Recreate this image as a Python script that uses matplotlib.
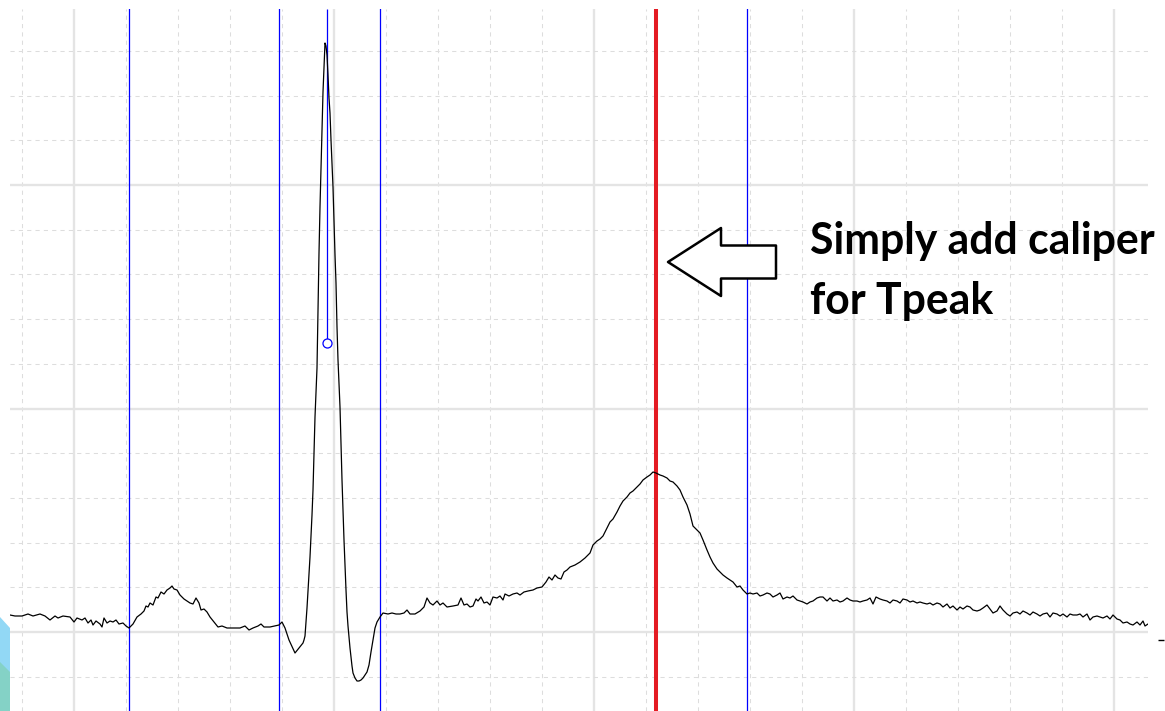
import numpy as np
import matplotlib
matplotlib.use("Agg")
import matplotlib.pyplot as plt
from matplotlib.ticker import MultipleLocator
from matplotlib.patches import Polygon

# recording constants
FS = 1300.0      # samples per second
GAIN = 447.0     # adc counts per mV

# ECG trace (sample index, adc counts above baseline)
# baseline + P wave
p_idx = [0, 5, 12, 18, 23, 30, 35, 40, 45, 48, 53, 60, 64, 67, 72, 75, 78, 81, 83, 86,
         90, 92, 94, 97, 100, 103, 106, 109, 113, 116, 119, 123, 127, 131, 134, 136, 138, 140,
         143, 146, 148, 151, 154, 157, 160, 162, 164, 167, 170, 174, 177, 180, 183, 186, 189,
         191, 194, 197, 200, 204, 208, 212, 217, 223, 230, 235, 239, 243, 248, 251, 254, 260, 269]
p_adc = [17, 16, 16, 18, 16, 18, 16, 12, 16, 14, 16, 15, 10, 14, 12, 14, 9, 12, 7, 11,
         8, 5, 14, 9, 11, 10, 12, 8, 9, 6, 4, 8, 15, 18, 21, 26, 25, 29,
         27, 35, 34, 40, 38, 42, 44, 46, 43, 42, 37, 33, 31, 29, 28, 34, 29,
         22, 23, 20, 15, 10, 5, 6, 4, 4, 4, 6, 2, 4, 6, 8, 5, 5, 7]
# QRS complex
qrs_idx = [272, 275, 279, 285, 289, 293, 294, 295, 296, 297, 298, 299, 300, 301, 302, 303, 304,
           305, 306, 307, 308, 309, 310, 311, 312, 313, 314, 315, 316, 317, 318, 319, 320,
           321, 322, 323, 324, 325, 326, 327, 328, 329, 330, 331, 332, 333, 334, 335, 336,
           337, 338, 339, 340, 341, 342, 343, 345, 347, 349, 351, 353, 355, 357, 359, 361, 363,
           365, 367, 370, 373]
qrs_adc = [10, 4, -8, -21, -16, -11, -8, -4, 10, 24, 42, 58, 75, 96, 117, 142, 180,
           215, 240, 264, 324, 379, 425, 462, 495, 540, 564, 589, 586, 577, 557, 534, 519,
           492, 469, 445, 410, 377, 349, 305, 272, 248, 225, 187, 152, 122, 92, 67, 42,
           20, 6, -5, -16, -25, -34, -41, -46, -49, -49, -48, -46, -43, -40, -33, -20,
           -8, 4, 10, 15, 19]
# ST segment + T wave
t_idx = [378, 382, 386, 390, 394, 397, 400, 405, 410, 414, 417, 420, 423, 427, 430, 433, 437,
         443, 448, 451, 454, 457, 460, 463, 466, 468, 471, 474, 477, 480, 483, 487, 490, 493,
         495, 499, 503, 507, 510, 514, 518, 523, 527, 532, 536, 539, 542, 545, 548, 551, 554,
         557, 560, 565, 570, 575, 580, 583, 587, 590, 593, 597, 600, 603, 607, 610, 613, 617,
         620, 623, 627, 630, 633, 637, 640, 643, 646, 650, 653, 657, 660, 663, 667, 670, 673,
         677, 680, 683, 687, 690, 693, 697, 700, 703, 707, 710, 713, 717, 720, 723, 727, 730,
         733, 737]
t_adc = [18, 19, 18, 18, 19, 22, 18, 18, 21, 25, 34, 29, 27, 31, 27, 29, 25,
         26, 27, 34, 27, 28, 25, 26, 33, 31, 35, 29, 30, 27, 35, 34, 36, 32,
         38, 36, 38, 39, 37, 40, 41, 42, 44, 45, 50, 55, 52, 57, 54, 53, 60,
         62, 65, 67, 70, 74, 79, 87, 91, 93, 96, 104, 110, 113, 120, 126, 131, 135,
         139, 141, 145, 148, 152, 155, 157, 160, 159, 157, 156, 154, 151, 150, 146, 142, 135,
         127, 118, 106, 102, 99, 92, 82, 75, 69, 63, 60, 57, 54, 52, 50, 45, 46,
         42, 38]
# after the T wave
u_idx = [740, 743, 747, 750, 753, 757, 760, 763, 767, 770, 773, 777, 780, 783, 787, 790, 793,
         797, 800, 803, 807, 810, 813, 817, 820, 823, 827, 830, 833, 837, 840, 843, 847, 850,
         853, 857, 860, 863, 866, 870, 873, 877, 880, 883, 887, 890, 893, 897, 900, 903, 907,
         910, 913, 917, 920, 923, 927, 930, 933, 937, 940, 943, 947, 950, 953, 957, 960, 963,
         967, 970, 973, 977, 980, 983, 987, 990, 993, 997, 1000, 1003, 1007, 1010, 1013, 1017,
         1020, 1023, 1027, 1030, 1033, 1037, 1040, 1043, 1047, 1050, 1053, 1057, 1060, 1063,
         1067, 1070, 1073, 1077, 1080, 1083, 1087, 1090, 1093, 1097, 1100, 1103, 1107, 1110,
         1113, 1117, 1120, 1123, 1127, 1130, 1133, 1135, 1138]
u_adc = [39, 38, 39, 36, 37, 39, 38, 35, 37, 39, 33, 35, 34, 36, 32, 31, 30,
         28, 30, 31, 34, 35, 35, 31, 34, 31, 32, 30, 31, 34, 32, 31, 31, 30,
         31, 32, 34, 28, 35, 33, 32, 31, 29, 32, 31, 29, 33, 32, 30, 31, 29,
         30, 29, 28, 29, 27, 29, 28, 25, 28, 24, 26, 22, 25, 23, 26, 25, 22,
         21, 22, 24, 27, 23, 19, 21, 26, 22, 18, 16, 19, 20, 18, 21, 19,
         17, 20, 18, 16, 18, 19, 15, 19, 18, 16, 18, 15, 18, 17,
         17, 18, 15, 18, 12, 15, 16, 15, 14, 16, 13, 17, 13, 12,
         9, 10, 8, 7, 10, 7, 11, 6, 8]

# calipers (sample index)
blue_calipers = [119, 269, 370, 737]
tpeak_caliper = 646
r_caliper = 317
r_caliper_end = 289   # adc counts, where the caliper handle sits

ecg_idx = np.array(p_idx + qrs_idx + t_idx + u_idx)
ecg_adc = np.array(p_adc + qrs_adc + t_adc + u_adc)
t_ms = ecg_idx / FS * 1000
mv = ecg_adc / GAIN

def to_ms(i):
    return i / FS * 1000

fig = plt.figure(figsize=(11.65, 7.11), dpi=100)
ax = fig.add_axes([10/1165, 0, 1138/1165, 702/711])

x_max = to_ms(1138)
y_min, y_max = -79/GAIN, 623/GAIN
ax.set_xlim(0, x_max)
ax.set_ylim(y_min, y_max)

# ECG paper style grid
grid_off = to_ms(64)
ax.xaxis.set_major_locator(MultipleLocator(200, offset=grid_off))
ax.xaxis.set_minor_locator(MultipleLocator(40, offset=grid_off))
ax.yaxis.set_major_locator(MultipleLocator(0.5))
ax.yaxis.set_minor_locator(MultipleLocator(0.1))
ax.grid(which="major", color="#e4e4e4", lw=1.7, ls="-")
ax.grid(which="minor", color="#dddddd", lw=0.75, ls=(0, (4, 4)))
ax.set_axisbelow(True)
ax.tick_params(which="both", length=0, labelbottom=False, labelleft=False)
for s in ax.spines.values():
    s.set_visible(False)

# calipers
for c in blue_calipers:
    ax.axvline(to_ms(c), color="#0000ff", lw=0.9, zorder=2)
ax.vlines(to_ms(r_caliper), r_caliper_end/GAIN, y_max, color="#0000ff", lw=0.9, zorder=2)
ax.plot(to_ms(r_caliper), r_caliper_end/GAIN, "o", mfc="white", mec="#0000ff",
        ms=6.5, mew=0.9, zorder=4)
ax.axvline(to_ms(tpeak_caliper), color="#e41b23", lw=2.9, zorder=2)

# the trace
ax.plot(t_ms, mv, color="black", lw=0.9, zorder=3)

# little marker on the right edge
ax.plot(to_ms(1151), -8/GAIN, marker="_", ms=5, color="black", clip_on=False)

# annotation
ax.annotate("", xy=(to_ms(658), 370/GAIN), xytext=(to_ms(766), 370/GAIN),
            arrowprops=dict(arrowstyle="simple,head_length=5.3,head_width=6.8,tail_width=3.3",
                            mutation_scale=7.2, fc="white", ec="black", lw=1.8,
                            shrinkA=0, shrinkB=0), zorder=5)
ax.text(to_ms(800), 378/GAIN, "Simply add caliper", fontfamily="Lato", fontweight="bold",
        fontsize=30.8, va="baseline", ha="left", zorder=5)
ax.text(to_ms(800), 318/GAIN, "for Tpeak", fontfamily="Lato", fontweight="bold",
        fontsize=30.8, va="baseline", ha="left", zorder=5)

# bit of a logo cut off at the bottom left
fig.add_artist(Polygon([(0, 1-617/711), (10/1165, 1-628/711), (10/1165, 0), (0, 0)],
                       closed=True, transform=fig.transFigure, fc="#92d8f5", ec="none"))
fig.add_artist(Polygon([(0, 1-662/711), (10/1165, 1-672/711), (10/1165, 0), (0, 0)],
                       closed=True, transform=fig.transFigure, fc="#84d2c6", ec="none"))

fig.savefig("out.png", dpi=100, facecolor="white")
